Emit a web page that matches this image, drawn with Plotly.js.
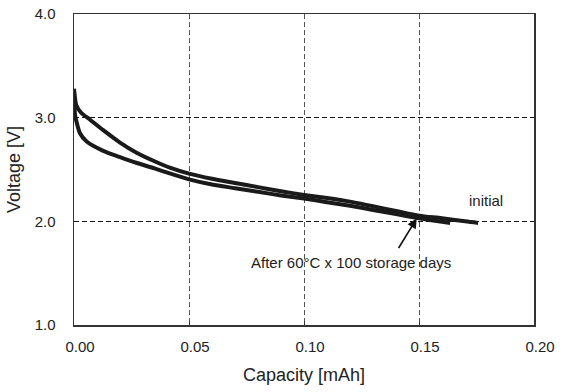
<!DOCTYPE html>
<html>
<head>
<meta charset="utf-8">
<script src="https://cdn.plot.ly/plotly-3.0.1.min.js"></script>
<style>html,body{margin:0;padding:0;background:#fff;}#chart{width:562px;height:392px;}</style>
</head>
<body>
<div id="chart"></div>
<script>
// Capacity [mAh] and Voltage [V]
var initialCapacity = [0, 0.0005, 0.001, 0.003, 0.007, 0.0127, 0.020, 0.027, 0.035, 0.042, 0.050, 0.060, 0.070, 0.080, 0.090, 0.100, 0.110, 0.120, 0.130, 0.140, 0.150, 0.160, 0.170, 0.1757];
var initialVoltage  = [3.28, 3.18, 3.12, 3.05, 2.98, 2.88, 2.76, 2.665, 2.58, 2.515, 2.46, 2.41, 2.37, 2.33, 2.29, 2.255, 2.225, 2.19, 2.145, 2.10, 2.055, 2.03, 2.00, 1.985];
var storedCapacity  = [0, 0.0005, 0.0012, 0.0026, 0.0055, 0.0127, 0.020, 0.027, 0.035, 0.042, 0.050, 0.060, 0.070, 0.080, 0.090, 0.100, 0.110, 0.120, 0.130, 0.140, 0.150, 0.160, 0.1635];
var storedVoltage   = [3.2, 3.02, 2.95, 2.85, 2.77, 2.68, 2.62, 2.565, 2.51, 2.46, 2.405, 2.355, 2.32, 2.285, 2.25, 2.22, 2.185, 2.15, 2.11, 2.07, 2.03, 1.995, 1.985];
var xTickVals = [0, 0.05, 0.10, 0.15, 0.20];
var xTickText = ['0.00', '0.05', '0.10', '0.15', '0.20'];
var yTickVals = [1, 2, 3, 4];
var yTickText = ['1.0', '2.0', '3.0', '4.0'];
var labelInitial = 'initial';
var labelStored = 'After 60°C x 100 storage days';

var font = 'Liberation Sans, Arial, Helvetica, sans-serif';
var traces = [
  {x: initialCapacity, y: initialVoltage, mode: 'lines', line: {color: '#1a1a1a', width: 4, shape: 'spline', smoothing: 0.8}, name: labelInitial, showlegend: false},
  {x: storedCapacity, y: storedVoltage, mode: 'lines', line: {color: '#1a1a1a', width: 4, shape: 'spline', smoothing: 0.8}, name: labelStored, showlegend: false}
];
var layout = {
  width: 562, height: 392,
  margin: {l: 74, r: 28, t: 14, b: 67},
  paper_bgcolor: '#fff', plot_bgcolor: '#fff',
  font: {family: font, color: '#222', size: 15},
  xaxis: {
    range: [0, 0.2], tickvals: xTickVals, ticktext: xTickText,
    showgrid: true, gridcolor: '#555', griddash: '5px,3px', gridwidth: 1,
    showline: true, linecolor: '#333', linewidth: 1.5, mirror: true,
    ticks: 'inside', ticklen: 4, tickcolor: '#333',
    zeroline: false, ticklabelstandoff: 7, ticklabelshift: 6,
    tickfont: {size: 15, family: font, color: '#222'},
    title: {text: 'Capacity [mAh]', font: {size: 18, family: font, color: '#222'}, standoff: 15},
    automargin: false
  },
  yaxis: {
    range: [1, 4], tickvals: yTickVals, ticktext: yTickText,
    showgrid: true, gridcolor: '#111', griddash: '5px,3px', gridwidth: 1,
    showline: true, linecolor: '#333', linewidth: 1.5, mirror: true,
    ticks: '', zeroline: false, ticklabelstandoff: 14,
    tickfont: {size: 15, family: font, color: '#222'},
    title: {text: 'Voltage [V]', font: {size: 18, family: font, color: '#222'}, standoff: 9},
    automargin: false
  },
  annotations: [
    {x: 0.179, y: 2.20, xref: 'x', yref: 'y', text: labelInitial, showarrow: false, xanchor: 'center', yanchor: 'middle', font: {size: 15, family: font, color: '#222'}},
    {x: 0.1204, y: 1.607, xref: 'x', yref: 'y', text: labelStored, showarrow: false, xanchor: 'center', yanchor: 'middle', font: {size: 15, family: font, color: '#222'}},
    {x: 0.149, y: 2.027, xref: 'x', yref: 'y', text: '', showarrow: true, ax: -19, ay: 31, arrowhead: 2, arrowsize: 1.2, arrowwidth: 1.6, arrowcolor: '#111', standoff: 0}
  ]
};
Plotly.newPlot('chart', traces, layout, {staticPlot: true, displayModeBar: false});
</script>
</body>
</html>
